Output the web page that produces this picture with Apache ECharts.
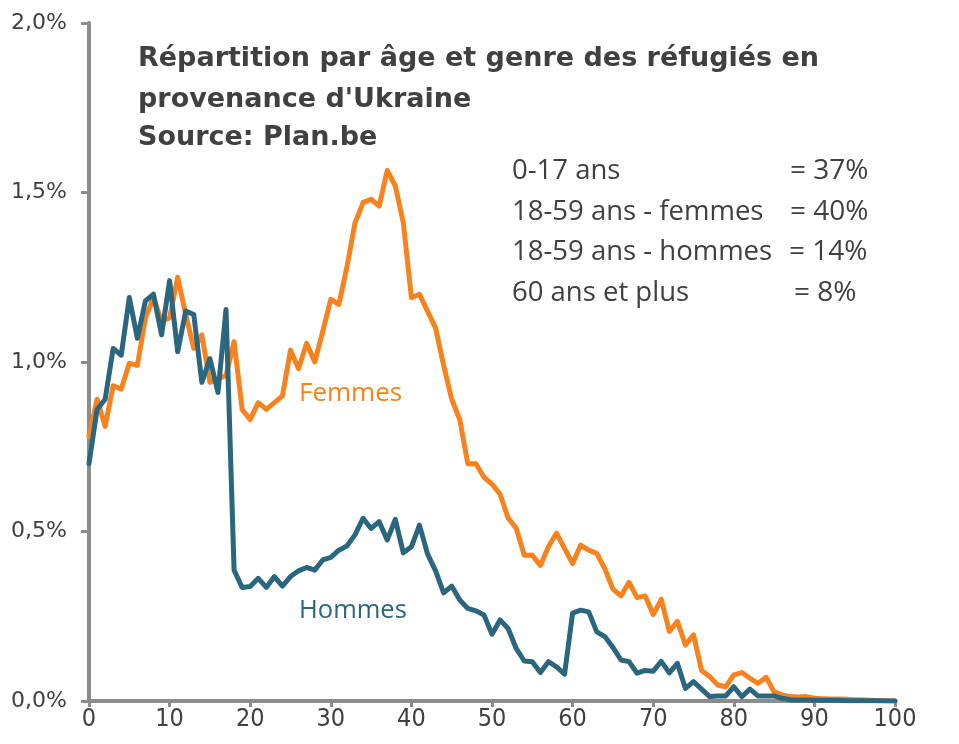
<!DOCTYPE html>
<html><head><meta charset="utf-8">
<script src="https://cdn.jsdelivr.net/npm/echarts@6/dist/echarts.min.js"></script>
<style>html,body{margin:0;padding:0;background:#fff}#c{width:959px;height:744px}</style>
</head><body><div id="c"></div>
<script>
// Ages 0..100 (x axis), values in % of total
var xTicks = [0,10,20,30,40,50,60,70,80,90,100];
var yTicks = [0,0.5,1.0,1.5,2.0];
var femmes = [0.78,0.89,0.81,0.93,0.92,0.996,0.99,1.13,1.19,1.12,1.13,1.25,1.14,1.04,1.08,0.94,0.95,0.96,1.06,0.86,
0.83,0.88,0.86,0.88,0.90,1.035,0.98,1.055,1.00,1.09,1.185,1.17,1.28,1.41,1.47,1.48,1.46,1.565,1.52,1.41,
1.19,1.20,1.15,1.10,0.99,0.89,0.83,0.70,0.70,0.66,0.64,0.61,0.54,0.51,0.43,0.43,0.40,0.455,0.495,0.45,
0.405,0.46,0.445,0.435,0.39,0.33,0.31,0.35,0.305,0.31,0.255,0.30,0.205,0.235,0.165,0.195,0.09,0.072,0.047,0.042,
0.077,0.084,0.067,0.052,0.070,0.027,0.018,0.013,0.012,0.013,0.008,0.007,0.006,0.006,0.005,0.004,0.003,0.002,0.001,0.001,0.0];
var hommes = [0.70,0.86,0.89,1.04,1.02,1.19,1.07,1.18,1.20,1.08,1.24,1.03,1.15,1.14,0.94,1.01,0.91,1.155,0.386,0.335,
0.338,0.362,0.335,0.367,0.339,0.367,0.384,0.394,0.386,0.416,0.424,0.445,0.457,0.49,0.539,0.509,0.529,0.475,0.536,0.437,
0.455,0.519,0.434,0.384,0.319,0.339,0.298,0.273,0.266,0.254,0.197,0.239,0.214,0.155,0.118,0.116,0.084,0.116,0.101,0.079,
0.259,0.268,0.263,0.204,0.19,0.158,0.121,0.116,0.082,0.09,0.088,0.117,0.083,0.111,0.037,0.057,0.035,0.013,0.015,0.015,
0.042,0.013,0.035,0.015,0.015,0.015,0.008,0.004,0.003,0.003,0.002,0.002,0.002,0.002,0.001,0.001,0.001,0.001,0.001,0.0,0.0];
var titleLines = ["Répartition par âge et genre des réfugiés en","provenance d'Ukraine","Source: Plan.be"];
var noteLabels = ["0-17 ans","18-59 ans - femmes","18-59 ans - hommes","60 ans et plus"];
var noteValues = ["= 37%","= 40%","= 14%","= 8%"];

var ORANGE = '#F7821E', BLUE = '#2B667F', TXT = '#404040', AX = '#8C8C8C';
function pairs(arr){ return arr.map(function(v,i){ return [i, v]; }); }

var chart = echarts.init(document.getElementById('c'), null, {renderer:'canvas'});
var graphics = [];
var titleY = [59, 100, 138];
titleLines.forEach(function(t,i){
  graphics.push({type:'text', x:138, y:titleY[i], style:{text:t, fill:TXT, font:'bold 27px "DejaVu Sans", sans-serif', verticalAlign:'middle'}});
});
var noteX = [790,790,789,794];
var noteY = [171, 212, 252, 293];
noteLabels.forEach(function(t,i){
  graphics.push({type:'text', x:512, y:noteY[i], style:{text:t, fill:TXT, font:'27.5px "Open Sans", sans-serif', verticalAlign:'middle'}});
  graphics.push({type:'text', x:noteX[i], y:noteY[i], style:{text:noteValues[i], fill:TXT, font:'28px "Open Sans", sans-serif', verticalAlign:'middle'}});
});
graphics.push({type:'text', x:299, y:394, style:{text:'Femmes', fill:ORANGE, font:'26px "Open Sans", sans-serif', verticalAlign:'middle'}});
graphics.push({type:'text', x:299, y:611, style:{text:'Hommes', fill:BLUE, font:'25.5px "Open Sans", sans-serif', verticalAlign:'middle'}});

chart.setOption({
  animation:false,
  grid:{left:89, right:64, top:23, bottom:43, containLabel:false},
  xAxis:{type:'value', min:0, max:100, interval:10,
    axisLine:{show:true, lineStyle:{color:AX, width:4}},
    axisTick:{show:true, length:6, lineStyle:{color:AX, width:3}},
    splitLine:{show:false},
    axisLabel:{color:TXT, fontSize:25, fontFamily:'"Liberation Sans Narrow", "DejaVu Sans Condensed", sans-serif', margin:6,
      formatter:function(v){ return xTicks.indexOf(v)>=0 ? String(v) : ''; }}
  },
  yAxis:{type:'value', min:0, max:2, interval:0.5,
    axisLine:{show:true, lineStyle:{color:AX, width:4}},
    axisTick:{show:true, length:8, lineStyle:{color:AX, width:3}},
    splitLine:{show:false},
    axisLabel:{color:TXT, fontSize:22, fontFamily:'"DejaVu Sans", sans-serif', margin:22,
      formatter:function(v){ return yTicks.indexOf(v)>=0 ? v.toFixed(1).replace('.',',')+'%' : ''; }}
  },
  series:[
    {name:'Femmes', type:'line', data:pairs(femmes), showSymbol:false, symbol:'none',
      lineStyle:{color:ORANGE, width:5, join:'round', cap:'round'}, z:2},
    {name:'Hommes', type:'line', data:pairs(hommes), showSymbol:false, symbol:'none',
      lineStyle:{color:BLUE, width:5, join:'round', cap:'round'}, z:3}
  ],
  graphic:graphics
});
</script></body></html>
